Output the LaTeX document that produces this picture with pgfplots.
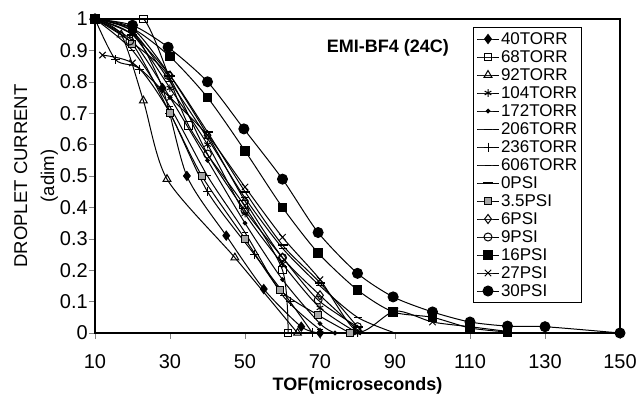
\documentclass[border=0pt]{standalone}
\usepackage{pgfplots}
\pgfplotsset{compat=1.18}
\usetikzlibrary{calc}
\usepackage{fontspec}
\setmainfont{Liberation Sans}
\begin{document}
\begin{tikzpicture}
\begin{axis}[
  scale only axis, width=525pt, height=314pt,
  xmin=10, xmax=150, ymin=0, ymax=1,
  xtick={10,30,...,150}, ytick={0,0.1,...,1.01},
  yticklabels={0,0.1,0.2,0.3,0.4,0.5,0.6,0.7,0.8,0.9,1},
  tick align=outside, major tick length=6pt,
  xtick pos=bottom, ytick pos=left,
  /pgf/number format/assume math mode=true,
  tick label style={font=\fontsize{20}{22}\selectfont},
  yticklabel style={inner sep=1pt},
  xticklabel style={yshift=-12pt},
  axis line style={line width=1.2pt},
  xlabel={\textbf{TOF(microseconds)}},
  xlabel style={font=\fontsize{18}{20}\selectfont, at={(axis description cs:0.5,0)}, anchor=center, yshift=-53pt},
  ylabel={DROPLET CURRENT\\(adim)},
  ylabel style={font=\fontsize{18.5}{27}\selectfont, align=center, at={(axis description cs:-0.112,0.5)}, anchor=center, rotate=0},
  every axis plot/.append style={black, line width=1pt, smooth, tension=0.45},
  legend style={at={(0.72,0.9745)}, anchor=north west, draw=black, line width=1pt,
    font=\fontsize{17}{19}\selectfont, nodes={inner sep=1.5pt, text height=13pt, text depth=3pt},
    row sep=-1pt},
  legend cell align=left,
  legend image code/.code={\draw[#1] (0pt,0pt) -- (11pt,0pt) -- (22pt,0pt); \draw[#1, mark repeat=2, mark phase=2] plot coordinates {(0pt,0pt) (11pt,0pt) (22pt,0pt)};},
]
% 40TORR
\addplot[mark=diamond*, mark size=4.5pt] coordinates {(10,1)(20,0.96)(28,0.78)(34.5,0.50)(45,0.31)(55,0.14)(65,0.02)(70,0)};
\addlegendentry{40TORR}
% 68TORR
\addplot[mark=square, mark size=3.8pt, mark options={fill=white}] coordinates {(10,1)(23,1)(35,0.66)(49.6,0.41)(60,0.20)(61.5,0)};
\addlegendentry{68TORR}
% 92TORR
\addplot[mark=triangle, mark size=4.5pt, mark options={fill=white}] coordinates {(10,1)(17,0.95)(22.9,0.74)(29.2,0.49)(47.3,0.24)(64,0)};
\addlegendentry{92TORR}
% 104TORR
\addplot[mark=asterisk, mark size=3.8pt] coordinates {(10,1)(20,0.95)(30,0.78)(40,0.60)(50,0.38)(60,0.22)(70,0.08)(80,0)};
\addlegendentry{104TORR}
% 172TORR
\addplot[mark=*, mark size=1.8pt] coordinates {(10,1)(20,0.93)(30,0.75)(40,0.55)(50,0.35)(60,0.17)(70,0.03)(74,0)};
\addlegendentry{172TORR}
% 206TORR
\addplot[mark=-, mark size=4pt] coordinates {(10,1)(20,0.96)(30,0.80)(40,0.62)(50,0.43)(60,0.27)(70,0.15)(80,0.05)(90,0)};
\addlegendentry{206TORR}
% 236TORR
\addplot[mark=+, mark size=4.5pt] coordinates {(10,1)(15.5,0.87)(22,0.84)(30,0.70)(40,0.45)(52.5,0.25)(62,0.10)(68,0)};
\addlegendentry{236TORR}
% 606TORR
\addplot[mark=-, mark size=3pt] coordinates {(10,1)(20,0.90)(30,0.72)(40,0.50)(50,0.32)(60,0.12)(70,0.01)(72,0)};
\addlegendentry{606TORR}
% 0PSI
\addplot[mark=-, mark size=5pt, mark options={line width=2pt}] coordinates {(10,1)(20,0.95)(30,0.82)(40,0.64)(50,0.45)(60,0.28)(70,0.16)(80,0.02)(82,0)};
\addlegendentry{0PSI}
% 3.5PSI
\addplot[mark=square*, mark size=3.5pt, mark options={fill=gray!70}] coordinates {(10,1)(20,0.92)(30,0.70)(38.5,0.50)(50,0.30)(59.4,0.137)(69.5,0.057)(78,0)};
\addlegendentry{3.5PSI}
% 6PSI
\addplot[mark=diamond, mark size=4.5pt, mark options={fill=white}] coordinates {(10,1)(20,0.97)(30,0.82)(40,0.63)(50,0.42)(60,0.24)(70,0.12)(80,0.01)};
\addlegendentry{6PSI}
% 9PSI
\addplot[mark=o, mark size=4pt, mark options={fill=white}] coordinates {(10,1)(19.3,0.93)(29.5,0.82)(40,0.57)(50,0.39)(60,0.24)(69.5,0.105)(80,0.02)};
\addlegendentry{9PSI}
% 16PSI
\addplot[mark=square*, mark size=4.3pt] coordinates {(10,1)(20,0.97)(30,0.88)(40,0.75)(50,0.58)(60,0.40)(69.5,0.255)(80,0.137)(89.5,0.067)(100,0.05)(110,0.016)(120,0.003)};
\addlegendentry{16PSI}
% 27PSI
\addplot[mark=x, mark size=4.5pt] coordinates {(12,0.885)(20,0.86)(30,0.75)(40,0.63)(50,0.465)(60,0.305)(70,0.17)(80,0.005)(90,0.07)(100,0.035)(110,0.02)(120,0.005)};
\addlegendentry{27PSI}
% 30PSI
\addplot[mark=*, mark size=5pt] coordinates {(10,1)(20,0.98)(29.5,0.91)(40,0.80)(49.7,0.65)(60,0.49)(69.5,0.32)(80,0.19)(89.5,0.115)(100,0.067)(110,0.035)(120,0.022)(130,0.02)(150,0)};
\addlegendentry{30PSI}
\node[font=\fontsize{18}{20}\selectfont\bfseries] at (axis cs:88.1,0.908) {EMI-BF4 (24C)};
\end{axis}
\pgfresetboundingbox
\path[use as bounding box] ($(current axis.south west)+(-95pt,-65pt)$) rectangle ($(current axis.north east)+(17pt,19pt)$);
\end{tikzpicture}
\end{document}
